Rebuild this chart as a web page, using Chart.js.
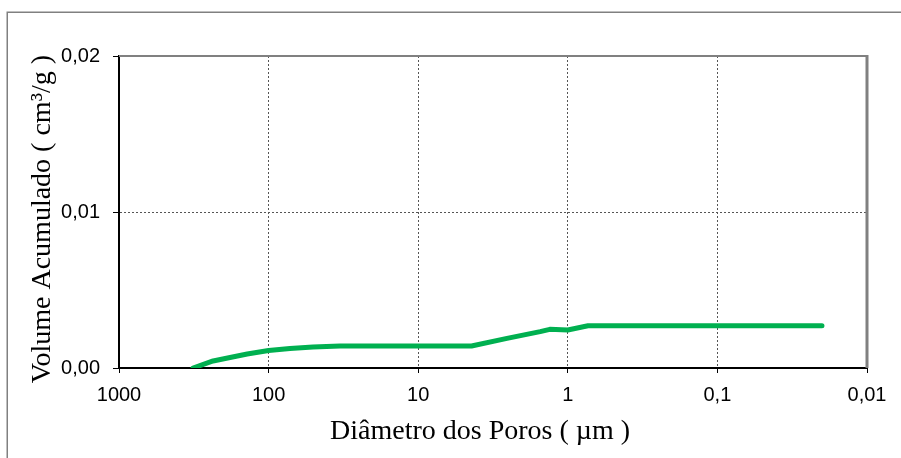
<!DOCTYPE html>
<html>
<head>
<meta charset="utf-8">
<script src="https://cdn.jsdelivr.net/npm/chart.js@4/dist/chart.umd.min.js"></script>
<style>
  html, body { margin: 0; padding: 0; background: #fff; }
  #wrap { position: absolute; left: 0; top: 0; width: 901px; height: 458px; }
</style>
</head>
<body>
<div id="wrap"><canvas id="c"></canvas></div>
<script>
// Pore diameter (µm) and cumulative volume (cm³/g)
const diameters = [320, 235, 181, 139, 100, 72, 50.5, 33.3, 4.4, 2.55, 1.53, 1.32, 1.0, 0.733, 0.02];
const volumes   = [0, 0.00045, 0.00067, 0.0009, 0.00112, 0.00125, 0.00135, 0.00141, 0.00141, 0.0019, 0.00233, 0.00248, 0.00244, 0.00271, 0.00271];

const xTickValues = [1000, 100, 10, 1, 0.1, 0.01];
const xTickLabels = ['1000', '100', '10', '1', '0,1', '0,01'];
const yTickValues = [0, 0.01, 0.02];
const yTickLabels = ['0,00', '0,01', '0,02'];

const xTitle = 'Diâmetro dos Poros ( µm )';
const yTitle = 'Volume Acumulado ( cm³/g )';

const points = diameters.map((d, i) => ({ x: d, y: volumes[i] }));

const framePlugin = {
  id: 'frame',
  beforeDraw(chart) {
    const ctx = chart.ctx;
    ctx.save();
    ctx.fillStyle = '#ffffff';
    ctx.fillRect(0, 0, chart.width, chart.height);
    ctx.strokeStyle = '#808080';
    ctx.lineWidth = 1.5;
    ctx.strokeRect(7.25, 12.25, chart.width + 20, chart.height + 20);
    ctx.restore();
  },
  beforeDatasetsDraw(chart) {
    const { ctx, chartArea: a } = chart;
    ctx.save();
    ctx.strokeStyle = '#808080';
    ctx.lineWidth = 2;
    ctx.beginPath();
    ctx.moveTo(a.left, a.top);
    ctx.lineTo(a.right, a.top);
    ctx.stroke();
    ctx.lineWidth = 3;
    ctx.beginPath();
    ctx.moveTo(a.right, a.top - 1);
    ctx.lineTo(a.right, a.bottom);
    ctx.stroke();
    ctx.restore();
  },
  afterDraw(chart) {
    const { ctx, chartArea: a } = chart;
    ctx.save();
    ctx.fillStyle = '#000';
    ctx.font = '28px "Liberation Serif"';
    ctx.textBaseline = 'alphabetic';
    ctx.textAlign = 'center';
    // x-axis title
    ctx.fillText(xTitle, (a.left + a.right) / 2 - 13, a.bottom + 71);
    // y-axis title
    ctx.translate(a.left - 69, (a.top + a.bottom) / 2 + 7);
    ctx.rotate(-Math.PI / 2);
    ctx.fillText(yTitle, 0, 0);
    ctx.restore();
  }
};

new Chart(document.getElementById('c'), {
  type: 'scatter',
  data: {
    datasets: [{
      data: points,
      showLine: true,
      borderColor: '#00b050',
      backgroundColor: '#00b050',
      borderWidth: 5,
      borderCapStyle: 'round',
      borderJoinStyle: 'round',
      pointRadius: 0,
      tension: 0
    }]
  },
  options: {
    responsive: true,
    maintainAspectRatio: false,
    animation: false,
    layout: { padding: { left: 0, top: 56, right: 34, bottom: 0 } },
    plugins: { legend: { display: false }, tooltip: { enabled: false } },
    scales: {
      x: {
        type: 'logarithmic',
        reverse: true,
        min: 0.01,
        max: 1000,
        afterBuildTicks(scale) { scale.ticks = xTickValues.map(v => ({ value: v })); },
        afterFit(scale) { scale.height = 90; },
        ticks: {
          autoSkip: false,
          maxRotation: 0,
          padding: 10,
          color: '#000',
          font: { family: 'Liberation Sans', size: 20 },
          callback(value) {
            const i = xTickValues.findIndex(v => Math.abs(Math.log10(v) - Math.log10(value)) < 1e-6);
            return i >= 0 ? xTickLabels[i] : '';
          }
        },
        grid: {
          color(ctx) {
            const v = ctx.tick && ctx.tick.value;
            return (v === 1000 || v === 0.01) ? 'rgba(0,0,0,0)' : '#555555';
          },
          lineWidth: 1,
          tickLength: 5,
          tickColor: '#000',
          tickWidth: 1
        },
        border: { display: true, color: '#000', width: 2, dash: [2, 2] },
        title: { display: false }
      },
      y: {
        type: 'linear',
        min: 0,
        max: 0.02,
        afterBuildTicks(scale) { scale.ticks = yTickValues.map(v => ({ value: v })); },
        afterFit(scale) { scale.width = 119; },
        ticks: {
          padding: 13,
          color: '#000',
          font: { family: 'Liberation Sans', size: 20 },
          callback(value) {
            const i = yTickValues.findIndex(v => Math.abs(v - value) < 1e-9);
            return i >= 0 ? yTickLabels[i] : '';
          }
        },
        grid: {
          color(ctx) {
            const v = ctx.tick && ctx.tick.value;
            return (Math.abs(v - 0.01) < 1e-9) ? '#555555' : 'rgba(0,0,0,0)';
          },
          lineWidth: 1,
          tickLength: 6,
          tickColor: '#000',
          tickWidth: 1
        },
        border: { display: true, color: '#000', width: 2, dash: [2, 2] },
        title: { display: false }
      }
    }
  },
  plugins: [framePlugin]
});
</script>
</body>
</html>
